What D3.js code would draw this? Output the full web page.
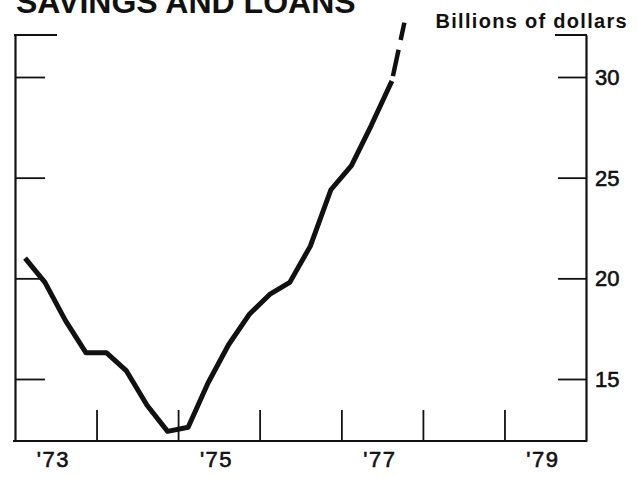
<!DOCTYPE html>
<html>
<head>
<meta charset="utf-8">
<script src="https://cdn.jsdelivr.net/npm/d3@7"></script>
<style>
  html, body { margin: 0; padding: 0; background: #fff; }
  svg { display: block; }
  text { font-family: "Liberation Sans", Arial, Helvetica, sans-serif; fill: #111; }
</style>
</head>
<body>
<svg id="chart" width="638" height="477"></svg>
<script>
// ---- Data ----
const title = "SAVINGS AND LOANS";
const unitLabel = "Billions of dollars";
const quarters = ["1973Q1","1973Q2","1973Q3","1973Q4","1974Q1","1974Q2","1974Q3","1974Q4",
                  "1975Q1","1975Q2","1975Q3","1975Q4","1976Q1","1976Q2","1976Q3","1976Q4",
                  "1977Q1","1977Q2","1977Q3"];
const values = [21.0, 19.8, 17.9, 16.3, 16.3, 15.4, 13.7, 12.4,
                12.6, 14.8, 16.7, 18.2, 19.2, 19.8, 21.6, 24.4,
                25.6, 27.6, 29.8];
// projected (dashed) continuation
const projDates = ["1977-08-15", "1977-10-10"];
const projValues = [29.8, 32.7];
const yTicks = [15, 20, 25, 30];
const yTickLabels = ["15", "20", "25", "30"];
const xTickYears = [1974, 1975, 1976, 1977, 1978, 1979];
const xLabelYears = [1973, 1975, 1977, 1979];
const xLabels = ["'73", "'75", "'77", "'79"];

// ---- Layout ----
const mLeft = 15, mRight = 586, mTop = 35, mBottom = 441;
const svg = d3.select("#chart");

function quarterMid(q) {
  const yr = +q.slice(0, 4), qi = +q.slice(5) - 1;
  return new Date(yr, qi * 3 + 1, 15);
}
const parse = d3.timeParse("%Y-%m-%d");

const x = d3.scaleTime()
  .domain([new Date(1973, 0, 1), new Date(1980, 0, 1)])
  .range([mLeft, mRight]);

// y: 15 -> 379px, 30 -> 77px
const pxPerUnit = (379 - 77) / 15;
const y = d3.scaleLinear()
  .domain([15 - (mBottom - 379) / pxPerUnit, 30 + (77 - mTop) / pxPerUnit])
  .range([mBottom, mTop]);

// ---- Title & unit ----
svg.append("text")
  .attr("x", 16).attr("y", 13)
  .style("font-size", "32px").style("font-weight", "bold")
  .text(title);

svg.append("text")
  .attr("x", 628).attr("y", 28)
  .attr("text-anchor", "end")
  .style("font-size", "20px").style("font-weight", "bold")
  .style("letter-spacing", "1.3px")
  .text(unitLabel);

// ---- Frame / axes ----
const leftAxis = d3.axisRight(y).tickValues(yTicks).tickSizeInner(30).tickSizeOuter(0).tickFormat("");
const gL = svg.append("g").attr("transform", `translate(${mLeft},0)`).call(leftAxis);

const rightAxis = d3.axisLeft(y).tickValues(yTicks).tickSizeInner(28).tickSizeOuter(0).tickFormat("");
const gR = svg.append("g").attr("transform", `translate(${mRight},0)`).call(rightAxis);

const bottomAxis = d3.axisTop(x)
  .tickValues(xTickYears.map(yr => new Date(yr, 0, 1)))
  .tickSizeInner(31).tickSizeOuter(0).tickFormat("");
const gB = svg.append("g").attr("transform", `translate(0,${mBottom})`).call(bottomAxis);

[gL, gR, gB].forEach(g => {
  g.select(".domain").attr("stroke", "#111").attr("stroke-width", 2.2);
  g.selectAll(".tick line").attr("stroke", "#111").attr("stroke-width", 1.8);
});
gB.select(".domain").attr("d", `M${mLeft - 2},0H${mRight + 1}`);

// top corner segments
svg.append("line").attr("x1", mLeft - 1).attr("x2", 57).attr("y1", mTop).attr("y2", mTop)
  .attr("stroke", "#111").attr("stroke-width", 2);
svg.append("line").attr("x1", 555).attr("x2", mRight + 1).attr("y1", mTop).attr("y2", mTop)
  .attr("stroke", "#111").attr("stroke-width", 2);

// ---- Labels ----
svg.selectAll(".ylab").data(yTicks).join("text")
  .attr("class", "ylab")
  .attr("x", 595).attr("y", d => y(d) + 8)
  .style("font-size", "22px")
  .style("stroke", "#111").style("stroke-width", "0.6px")
  .text((d, i) => yTickLabels[i]);

svg.selectAll(".xlab").data(xLabelYears).join("text")
  .attr("class", "xlab")
  .attr("x", d => x(new Date(d, 6, 1)) - 2).attr("y", 467)
  .attr("text-anchor", "middle")
  .style("font-size", "22px").style("letter-spacing", "1.5px")
  .style("stroke", "#111").style("stroke-width", "0.6px")
  .text((d, i) => xLabels[i]);

// ---- Series ----
const line = d3.line().x(d => x(d.date)).y(d => y(d.value));
const series = quarters.map((q, i) => ({ date: quarterMid(q), value: values[i] }));
svg.append("path")
  .datum(series)
  .attr("d", line)
  .attr("fill", "none").attr("stroke", "#111")
  .attr("stroke-width", 5).attr("stroke-linejoin", "round");

const proj = projDates.map((d, i) => ({ date: parse(d), value: projValues[i] }));
svg.append("path")
  .datum(proj)
  .attr("d", line)
  .attr("fill", "none").attr("stroke", "#111")
  .attr("stroke-width", 4.5)
  .attr("stroke-dasharray", "27,10").attr("stroke-dashoffset", 32);
</script>
</body>
</html>
